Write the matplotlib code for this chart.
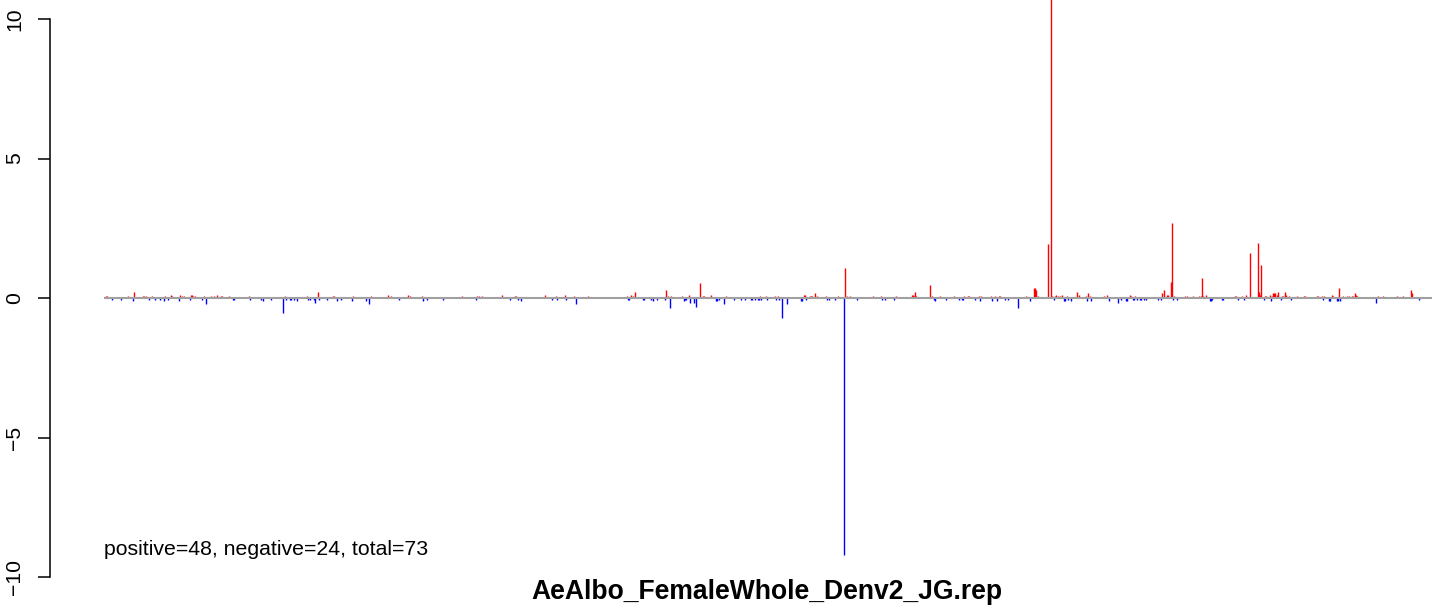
import numpy as np
import matplotlib.pyplot as plt

plt.rcParams['font.family'] = ['Liberation Sans', 'DejaVu Sans']

# positions along the sequence and scores, split by sign
pos_x = [106, 107, 128, 134, 143, 144, 146, 152, 165, 171, 172, 180, 182, 184, 191, 192, 193, 195, 204,
         211, 214, 217, 221, 222, 229, 249, 285, 307, 318, 333, 334, 353, 371, 388, 391, 408, 410, 422,
         462, 477, 479, 482, 502, 515, 516, 545, 556, 565, 574, 588, 627, 631, 633, 635, 666, 668, 671,
         682, 689, 700, 703, 704, 711, 726, 760, 766, 775, 778, 804, 805, 810, 811, 812, 815, 817, 826,
         838, 845, 847, 850, 873, 881, 896, 912, 913, 914, 915, 916, 930, 932, 940, 954, 964, 968, 969,
         979, 981, 991, 995, 999, 1000, 1026, 1034, 1035, 1036, 1038, 1048, 1051, 1052, 1055, 1056, 1058,
         1060, 1062, 1067, 1077, 1079, 1086, 1088, 1090, 1104, 1107, 1130, 1131, 1135, 1162, 1164, 1167,
         1168, 1171, 1172, 1174, 1185, 1187, 1193, 1199, 1201, 1202, 1203, 1206, 1235, 1236, 1242, 1246,
         1250, 1258, 1259, 1260, 1261, 1265, 1266, 1270, 1272, 1273, 1274, 1275, 1277, 1278, 1282, 1283,
         1285, 1286, 1289, 1297, 1304, 1305, 1317, 1318, 1322, 1324, 1332, 1333, 1339, 1343, 1347, 1349,
         1352, 1353, 1355, 1356, 1357, 1378, 1383, 1397, 1403, 1411, 1412]
pos_y = [0.06, 0.06, 0.06, 0.2, 0.06, 0.06, 0.06, 0.06, 0.06, 0.1, 0.06, 0.1, 0.06, 0.06, 0.1, 0.1, 0.06, 0.06, 0.06,
         0.06, 0.06, 0.1, 0.06, 0.06, 0.06, 0.06, 0.06, 0.06, 0.2, 0.06, 0.06, 0.06, 0.06, 0.1, 0.06, 0.1, 0.06, 0.06,
         0.06, 0.06, 0.06, 0.06, 0.1, 0.06, 0.06, 0.1, 0.06, 0.1, 0.06, 0.06, 0.06, 0.1, 0.06, 0.2, 0.27, 0.06, 0.06,
         0.06, 0.1, 0.52, 0.06, 0.06, 0.1, 0.06, 0.06, 0.06, 0.06, 0.06, 0.1, 0.1, 0.06, 0.06, 0.06, 0.17, 0.06, 0.06,
         0.06, 1.08, 0.06, 0.06, 0.06, 0.06, 0.06, 0.1, 0.1, 0.06, 0.2, 0.06, 0.47, 0.06, 0.06, 0.06, 0.06, 0.06, 0.06,
         0.06, 0.06, 0.06, 0.06, 0.06, 0.06, 0.06, 0.35, 0.35, 0.27, 0.06, 1.93, 15.0, 0.06, 0.08, 0.1, 0.06,
         0.06, 0.1, 0.06, 0.2, 0.1, 0.06, 0.17, 0.06, 0.06, 0.1, 0.1, 0.06, 0.06, 0.17, 0.27, 0.1,
         0.12, 0.57, 2.68, 0.06, 0.06, 0.06, 0.06, 0.06, 0.06, 0.73, 0.06, 0.1, 0.06, 0.06, 0.06, 0.1,
         1.63, 1.97, 0.2, 0.1, 1.2, 0.06, 0.06, 0.1, 0.06, 0.17, 0.17, 0.17, 0.1, 0.2, 0.06, 0.06,
         0.2, 0.1, 0.06, 0.06, 0.06, 0.06, 0.06, 0.06, 0.06, 0.06, 0.1, 0.06, 0.35, 0.06, 0.06, 0.06,
         0.06, 0.06, 0.17, 0.1, 0.06, 0.06, 0.06, 0.06, 0.06, 0.3, 0.17]

neg_x = [112, 121, 133, 149, 155, 160, 164, 168, 179, 190, 202, 206, 233, 234, 250, 261, 263, 271, 283, 286,
         290, 291, 294, 297, 308, 310, 314, 315, 319, 327, 337, 341, 352, 366, 369, 399, 423, 427, 443, 476,
         510, 518, 521, 552, 557, 566, 576, 628, 629, 643, 644, 651, 653, 657, 665, 670, 684, 685, 686, 690,
         694, 696, 716, 717, 719, 724, 734, 741, 745, 751, 752, 755, 758, 759, 761, 767, 776, 779, 782, 787,
         801, 802, 806, 827, 829, 835, 844, 857, 882, 885, 894, 934, 935, 946, 959, 962, 963, 975, 980, 992,
         997, 1005, 1008, 1018, 1030, 1054, 1064, 1065, 1068, 1071, 1087, 1091, 1109, 1118, 1121, 1126, 1127,
         1133, 1134, 1137, 1140, 1141, 1144, 1146, 1158, 1161, 1173, 1177, 1210, 1211, 1212, 1222, 1223,
         1238, 1244, 1264, 1271, 1281, 1291, 1323, 1329, 1330, 1337, 1338, 1340, 1376, 1419]
neg_y = [-0.08, -0.08, -0.1, -0.08, -0.08, -0.08, -0.1, -0.08, -0.1, -0.08, -0.08, -0.2, -0.08, -0.08, -0.08, -0.08, -0.1, -0.08, -0.52, -0.08,
         -0.08, -0.08, -0.08, -0.1, -0.08, -0.08, -0.08, -0.18, -0.08, -0.08, -0.1, -0.08, -0.1, -0.1, -0.2, -0.08, -0.1, -0.08, -0.08, -0.08,
         -0.08, -0.08, -0.11, -0.08, -0.08, -0.08, -0.2, -0.08, -0.08, -0.08, -0.08, -0.08, -0.1, -0.08, -0.08, -0.36, -0.1, -0.08, -0.08, -0.18,
         -0.18, -0.32, -0.1, -0.1, -0.08, -0.2, -0.08, -0.08, -0.08, -0.08, -0.08, -0.08, -0.08, -0.08, -0.08, -0.08, -0.08, -0.08, -0.71, -0.2,
         -0.1, -0.1, -0.08, -0.08, -0.08, -0.08, -9.2, -0.08, -0.08, -0.08, -0.08, -0.08, -0.1, -0.08, -0.08, -0.08, -0.08, -0.08, -0.1, -0.1,
         -0.1, -0.08, -0.08, -0.36, -0.1, -0.08, -0.1, -0.1, -0.08, -0.1, -0.1, -0.1, -0.1, -0.18, -0.08, -0.1, -0.1,
         -0.08, -0.08, -0.08, -0.08, -0.08, -0.08, -0.08, -0.08, -0.08, -0.08, -0.08, -0.1, -0.1, -0.08, -0.08, -0.08,
         -0.08, -0.08, -0.08, -0.1, -0.08, -0.08, -0.08, -0.1, -0.1, -0.1, -0.1, -0.1, -0.19, -0.08]

title = "AeAlbo_FemaleWhole_Denv2_JG.rep"
n_pos, n_neg, n_tot = 48, 24, 73

fig = plt.figure(figsize=(14.44, 6.08), dpi=100)
ax = fig.add_axes([50 / 1444, 31 / 608, 1390 / 1444, 558 / 608])
ax.set_xlim(50, 1440)
ax.set_ylim(-10, 10)

ax.vlines(pos_x, 0, pos_y, colors='#ff0000', lw=1.0, clip_on=False)
ax.vlines(neg_x, 0, neg_y, colors='#0000ff', lw=1.0)
ax.hlines(0, 104, 1432, colors='#a0a0a0', lw=1.5, zorder=3)

for s in ['top', 'right', 'bottom']:
    ax.spines[s].set_visible(False)
ax.spines['left'].set_bounds(-10, 10)
ax.spines['left'].set_linewidth(1.1)
ax.set_xticks([])
ax.set_yticks([-10, -5, 0, 5, 10])
ax.set_yticklabels(['\u221210', '\u22125', '0', '5', '10'])
ax.tick_params(axis='y', length=8.6, width=1.1, pad=10, labelsize=15.2, labelrotation=90)
for lab in ax.get_yticklabels():
    lab.set_va('center')

ax.text(104, -9.0, f"positive={n_pos}, negative={n_neg}, total={n_tot}", fontsize=15.3,
        ha='left', va='center')
fig.text(767 / 1444, 1 - 592 / 608, title, fontsize=19.1, fontweight='bold', ha='center', va='center')

fig.savefig('out.png', dpi=100)
